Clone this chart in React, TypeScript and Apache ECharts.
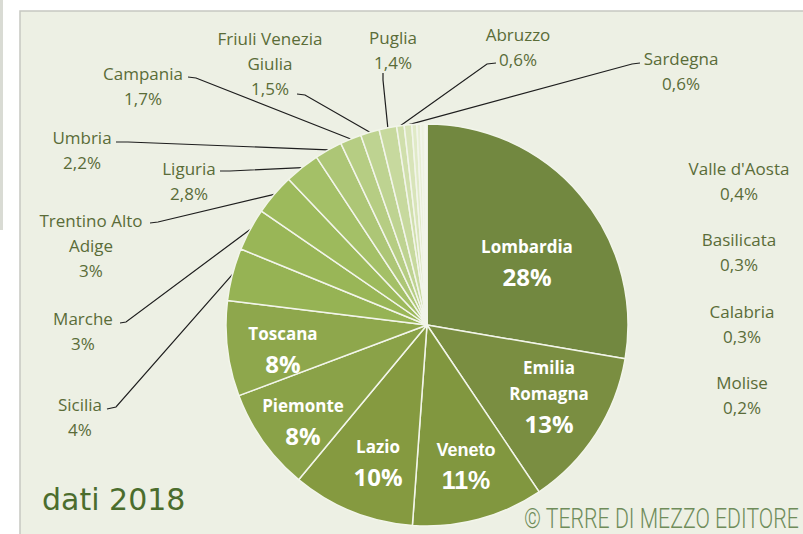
import React, { useEffect, useRef } from 'react';
import * as echarts from 'echarts';

// ---- data ----
const regions = [
  'Lombardia', 'Emilia Romagna', 'Veneto', 'Lazio', 'Piemonte', 'Toscana',
  'Sicilia', 'Marche', 'Trentino Alto Adige', 'Liguria', 'Umbria', 'Campania',
  'Friuli Venezia Giulia', 'Puglia', 'Abruzzo', 'Sardegna', "Valle d'Aosta",
  'Basilicata', 'Calabria', 'Molise',
];
const shares = [
  27.5, 12.8, 10.5, 9.8, 8.2, 7.6,
  4.2, 3.4, 3.3, 2.8, 2.2, 1.7,
  1.5, 1.4, 0.6, 0.6, 0.4,
  0.3, 0.3, 0.2,
];
const yearNote = 'dati 2018';
const credit = '© TERRE DI MEZZO EDITORE';

// ---- styles / layout ----
const sliceColors = [
  '#728840', '#7a8e41', '#81973f', '#859a40', '#8aa248', '#8ea74c',
  '#96b354', '#99b657', '#9dba5c', '#a4c067', '#adc676', '#b6cd83',
  '#bed391', '#c7d99e', '#d0dfac', '#d8e4b9', '#e0eac7', '#e7eed4',
  '#eef2e1', '#f5f7ee',
];
const nameBreaks: Record<string, string> = {
  'Emilia Romagna': 'Emilia\nRomagna',
  'Trentino Alto Adige': 'Trentino Alto\nAdige',
  'Friuli Venezia Giulia': 'Friuli Venezia\nGiulia',
};
type Pos = { x: number; y: number; inside?: boolean; arial?: boolean; line?: number[][] };
const labelPos: Pos[] = [
  { x: 527, y: 263, inside: true },
  { x: 549, y: 397, inside: true },
  { x: 466, y: 467, inside: true, arial: true },
  { x: 378, y: 463, inside: true },
  { x: 303, y: 422, inside: true },
  { x: 283, y: 350, inside: true },
  { x: 80, y: 417, line: [[116, 407], [107, 409]] },
  { x: 83, y: 331, line: [[126, 322], [120, 323]] },
  { x: 91, y: 245, line: [[158, 222], [150, 223]] },
  { x: 189, y: 181, line: [[230, 171], [220, 171]] },
  { x: 82, y: 150, line: [[128, 142], [116, 142]] },
  { x: 143, y: 86, line: [[196, 78], [188, 77]] },
  { x: 270, y: 63, line: [[305, 95], [297, 94]] },
  { x: 393, y: 50, line: [[383, 80], [383, 73]] },
  { x: 518, y: 47, line: [[487, 64], [496, 63]] },
  { x: 681, y: 71, line: [[632, 64], [640, 63]] },
  { x: 739, y: 181 },
  { x: 739, y: 252 },
  { x: 742, y: 324 },
  { x: 742, y: 395 },
];

const fmtPct = (v: number) =>
  v >= 3 ? `${Math.round(v)}%` : `${v.toFixed(1).replace('.', ',')}%`;

export default function App() {
  const ref = useRef<HTMLDivElement>(null);
  useEffect(() => {
    document.body.style.margin = '0';
    const chart = echarts.init(ref.current!, undefined, { renderer: 'svg' });
    const outsideText = '#5a6c38';
    const data = regions.map((name, i) => {
      const p = labelPos[i];
      return {
        name,
        value: shares[i],
        itemStyle: { color: sliceColors[i] },
        label: {
          position: p.inside ? 'inside' : 'outside',
        },
        labelLine: { show: !!p.line },
      };
    });
    chart.setOption({
      animation: false,
      backgroundColor: '#ffffff',
      graphic: [
        { type: 'rect', z: -10, shape: { x: 0, y: 0, width: 3, height: 230 }, style: { fill: '#d9dbd4' } },
        { type: 'rect', z: -10, shape: { x: 20, y: 11, width: 800, height: 540 }, style: { fill: '#edf0e4', stroke: '#c6c8c1', lineWidth: 1.5 } },
        {
          type: 'text', z: 10, x: 42, y: 484,
          style: { text: yearNote, fill: '#4b6d2d', font: '30px "DejaVu Sans", sans-serif' },
        },
        {
          type: 'text', z: 10, x: 524, y: 504, scaleX: 0.76,
          style: { text: credit, fill: '#6f8c5a', font: '300 28px Roboto, sans-serif' },
        },
      ],
      series: [
        {
          type: 'pie',
          center: [427, 325],
          radius: 201,
          startAngle: 90,
          clockwise: true,
          avoidLabelOverlap: false,
          itemStyle: { borderColor: '#f2f5ea', borderWidth: 1.5 },
          emphasis: { disabled: true },
          label: {
            show: true,
            formatter: (params: any) => {
              const p = labelPos[params.dataIndex];
              const nm = nameBreaks[params.name] || params.name;
              const pct = fmtPct(params.value);
              if (p.inside) {
                const n = p.arial ? 'na' : 'n';
                const pp = p.arial ? 'pa' : 'p';
                return nm.split('\n').map((s: string) => `{${n}|${s}}`).join('\n') + `\n{${pp}|${pct}}`;
              }
              return nm.split('\n').map((s: string) => `{o|${s}}`).join('\n') + `\n{o|${pct}}`;
            },
            rich: {
              n: { fontFamily: '"Open Sans", sans-serif', fontWeight: 'bold', fontSize: 17, color: '#ffffff', lineHeight: 26, align: 'center' },
              p: { fontFamily: '"Open Sans", sans-serif', fontWeight: 'bold', fontSize: 24, color: '#ffffff', lineHeight: 34, align: 'center' },
              na: { fontFamily: '"Liberation Sans", Arial, sans-serif', fontWeight: 'bold', fontSize: 18, color: '#ffffff', lineHeight: 26, align: 'center' },
              pa: { fontFamily: '"Liberation Sans", Arial, sans-serif', fontWeight: 'bold', fontSize: 25, color: '#ffffff', lineHeight: 34, align: 'center' },
              o: { fontFamily: '"Open Sans", sans-serif', fontSize: 17, color: outsideText, lineHeight: 25, align: 'center' },
            },
          },
          labelLine: {
            show: true,
            lineStyle: { color: '#1e1e1e', width: 1.2 },
            smooth: false,
          },
          labelLayout: (params: any) => {
            const p = labelPos[params.dataIndex];
            const res: any = { x: p.x, y: p.y, align: 'center', verticalAlign: 'middle' };
            if (p.line && params.labelLinePoints) {
              const start = params.labelLinePoints[0];
              res.labelLinePoints = [start, p.line[0], p.line[1]];
            }
            return res;
          },
          data,
        },
      ],
    });
    return () => chart.dispose();
  }, []);
  return <div ref={ref} style={{ position: 'absolute', left: 0, top: 0, width: 803, height: 534 }} />;
}
